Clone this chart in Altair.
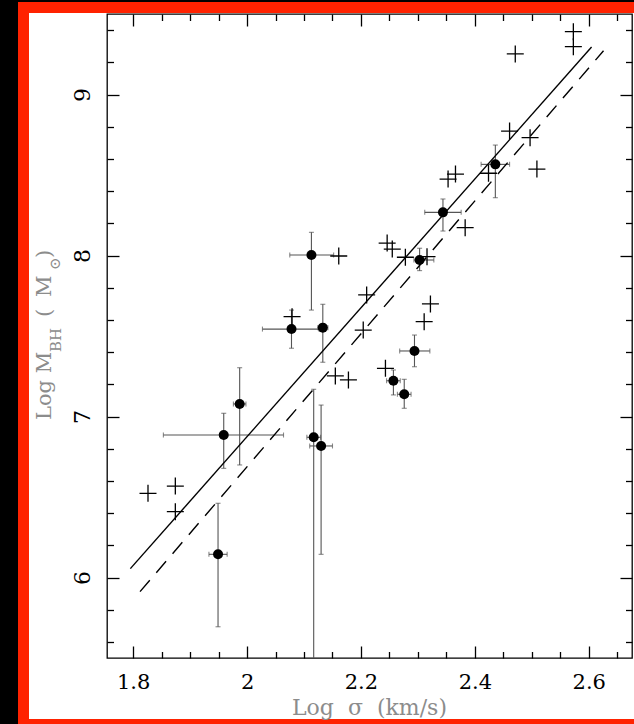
import altair as alt
import pandas as pd

# ---------------- data ----------------
# filled circles with error bars
circ_x = [2.113, 2.078, 2.133, 1.987, 1.959, 1.949, 2.117, 2.130, 2.344, 2.303, 2.294, 2.257, 2.276, 2.436]
circ_y = [8.003, 7.543, 7.552, 7.078, 6.885, 6.144, 6.871, 6.817, 8.268, 7.972, 7.407, 7.222, 7.138, 8.566]
circ_xlo = [2.075, 2.027, 2.124, 1.976, 1.853, 1.933, 2.105, 2.110, 2.312, 2.293, 2.268, 2.245, 2.264, 2.411]
circ_xhi = [2.152, 2.126, 2.142, 1.998, 2.064, 1.965, 2.129, 2.150, 2.376, 2.328, 2.321, 2.269, 2.288, 2.461]
circ_ylo = [7.661, 7.424, 7.337, 6.699, 6.678, 5.694, 5.000, 6.144, 8.152, 7.906, 7.309, 7.134, 7.051, 8.359]
circ_yhi = [8.144, 7.661, 7.697, 7.303, 7.020, 6.461, 7.169, 7.071, 8.351, 8.045, 7.506, 7.289, 7.231, 8.686]

# plus markers (no error bars)
plus_x = [1.826, 1.874, 1.874, 2.079, 2.155, 2.161, 2.178, 2.204, 2.210, 2.243, 2.246, 2.255, 2.278,
          2.316, 2.311, 2.322, 2.353, 2.366, 2.383, 2.424, 2.461, 2.471, 2.497, 2.509, 2.573, 2.573]
plus_y = [6.523, 6.568, 6.409, 7.620, 7.252, 7.997, 7.227, 7.537, 7.755, 7.299, 8.077, 8.040, 7.989,
          7.993, 7.589, 7.699, 8.475, 8.506, 8.173, 8.511, 8.773, 9.252, 8.732, 8.537, 9.390, 9.297]

# fitted relations (end points)
solid_x = [1.795, 2.605]
solid_y = [6.055, 9.295]
dash_x = [1.812, 2.626]
dash_y = [5.912, 9.272]

# axis ticks
x_major = [1.8, 2.0, 2.2, 2.4, 2.6]
x_minor = [1.85, 1.9, 1.95, 2.05, 2.1, 2.15, 2.25, 2.3, 2.35, 2.45, 2.5, 2.55, 2.65]
y_major = [6, 7, 8, 9]
y_minor = [5.6, 5.8, 6.2, 6.4, 6.6, 6.8, 7.2, 7.4, 7.6, 7.8, 8.2, 8.4, 8.6, 8.8, 9.2, 9.4]

X_DOMAIN = [1.754, 2.676]
Y_DOMAIN = [5.5, 9.5]

# ---------------- tables ----------------
circ = pd.DataFrame({"x": circ_x, "y": circ_y, "xlo": circ_xlo, "xhi": circ_xhi,
                     "ylo": circ_ylo, "yhi": circ_yhi})
plus = pd.DataFrame({"x": plus_x, "y": plus_y})
solid = pd.DataFrame({"x": solid_x, "y": solid_y})
dash = pd.DataFrame({"x": dash_x, "y": dash_y})
caps_h = pd.DataFrame({"x": circ_x + circ_x, "y": circ_ylo + circ_yhi})
caps_v = pd.DataFrame({"x": circ_xlo + circ_xhi, "y": circ_y + circ_y})

W, H = 525, 644
MAJ, MIN = 12, 6.5
LABEL_FONT = "DejaVu Serif"
TITLE_FONT = "DejaVu Serif"
GREY = "#8c8c8c"
ERR = "#555555"

xs = alt.Scale(domain=X_DOMAIN, nice=False, zero=False)
ys = alt.Scale(domain=Y_DOMAIN, nice=False, zero=False)


def tick_axis(orient, values, size, **kw):
    return alt.Axis(orient=orient, values=values, tickSize=size, offset=-size,
                    domain=False, grid=False, title=None, tickColor="black",
                    tickWidth=1.3, **kw)


ax_bottom = tick_axis("bottom", x_major, MAJ, labels=True, labelPadding=13, format="~g",
                      labelFont=LABEL_FONT, labelFontSize=21, labelColor="black")
ax_left = tick_axis("left", y_major, MAJ, labels=True, labelPadding=18, format="~g",
                    labelAngle=270, labelAlign="center", labelBaseline="alphabetic",
                    labelFont=LABEL_FONT, labelFontSize=22, labelColor="black")
ax_bottom_min = tick_axis("bottom", x_minor, MIN, labels=False)
ax_left_min = tick_axis("left", y_minor, MIN, labels=False)
ax_top = tick_axis("top", x_major, MAJ, labels=False)
ax_right = tick_axis("right", y_major, MAJ, labels=False)
ax_top_min = tick_axis("top", x_minor, MIN, labels=False)
ax_right_min = tick_axis("right", y_minor, MIN, labels=False)

# ---------------- layers ----------------
err_y = alt.Chart(circ).mark_rule(color=ERR, strokeWidth=1.1, clip=True).encode(
    x=alt.X("x:Q", scale=xs, axis=None),
    y=alt.Y("ylo:Q", scale=ys, axis=None), y2="yhi:Q")
err_x = alt.Chart(circ).mark_rule(color=ERR, strokeWidth=1.1, clip=True).encode(
    x=alt.X("xlo:Q", scale=xs, axis=None), x2="xhi:Q",
    y=alt.Y("y:Q", scale=ys, axis=None))
cap_h = alt.Chart(caps_h).mark_tick(color=ERR, orient="horizontal", size=5, thickness=1.1,
                                    clip=True).encode(
    x=alt.X("x:Q", scale=xs, axis=None), y=alt.Y("y:Q", scale=ys, axis=None))
cap_v = alt.Chart(caps_v).mark_tick(color=ERR, orient="vertical", size=5, thickness=1.1,
                                    clip=True).encode(
    x=alt.X("x:Q", scale=xs, axis=None), y=alt.Y("y:Q", scale=ys, axis=None))

solid_line = alt.Chart(solid).mark_line(color="black", strokeWidth=1.4).encode(
    x=alt.X("x:Q", scale=xs, axis=ax_bottom), y=alt.Y("y:Q", scale=ys, axis=ax_left))
dash_line = alt.Chart(dash).mark_line(color="black", strokeWidth=1.4,
                                      strokeDash=[15, 10]).encode(
    x=alt.X("x:Q", scale=xs, axis=ax_bottom_min), y=alt.Y("y:Q", scale=ys, axis=ax_left_min))

plus_pts = alt.Chart(plus).mark_point(shape="M-1,0L1,0M0,-1L0,1", size=289, filled=False,
                                      color="black", strokeWidth=1.3, opacity=1).encode(
    x=alt.X("x:Q", scale=xs, axis=ax_top), y=alt.Y("y:Q", scale=ys, axis=ax_right))
circ_pts = alt.Chart(circ).mark_point(shape="circle", size=100, filled=True, color="black",
                                      opacity=1).encode(
    x=alt.X("x:Q", scale=xs, axis=ax_top_min), y=alt.Y("y:Q", scale=ys, axis=ax_right_min))

one = alt.Data(values=[{"a": 1}])


def deco_rect(x1, x2, y1, y2, color):
    return alt.Chart(one).mark_rect(color=color).encode(
        x=alt.value(x1), x2=alt.value(x2), y=alt.value(y1), y2=alt.value(y2))


def label(txt, x, y, size=21, angle=270, align="left"):
    return alt.Chart(one).mark_text(text=txt, angle=angle, align=align, baseline="alphabetic",
                                    font=TITLE_FONT, fontSize=size, color=GREY).encode(
        x=alt.value(x), y=alt.value(y))


PL, PT = 107, 14
decor = [
    deco_rect(-PL, -PL + 18, -PT, 724 - PT, "black"),
    deco_rect(-PL, 634 - PL, -PT, -PT + 2, "black"),
    deco_rect(-PL + 18, -PL + 29, -PT + 2, 724 - PT, "#ff2200"),
    deco_rect(-PL + 18, 634 - PL, -PT + 2, -PT + 13, "#ff2200"),
    deco_rect(-PL + 18, 634 - PL, 719 - PT, 724 - PT, "#ff2200"),
]

titles = [
    label("Log\u00a0\u00a0σ\u00a0\u00a0(km/s)", W / 2, 714.5 - PT, size=22, angle=0, align="center"),
    label("Log M", 51 - PL, 420 - PT),
    label("BH", 61 - PL, 352 - PT, size=15),
    label("(", 51 - PL, 317 - PT),
    label("M", 51 - PL, 297 - PT),
    label("⊙", 60 - PL, 270 - PT, size=15),
    label(")", 51 - PL, 258 - PT),
]

chart = alt.layer(
    *decor, err_y, err_x, cap_h, cap_v, solid_line, dash_line, plus_pts, circ_pts, *titles
).resolve_axis(x="independent", y="independent").properties(
    width=W, height=H,
    autosize=alt.AutoSizeParams(type="none"),
    padding={"left": PL, "top": PT, "right": 634 - PL - W, "bottom": 724 - PT - H},
).configure(background="white").configure_view(stroke="black", strokeWidth=1.3, fill="white")

chart.save("out.html", embed_options={"renderer": "svg", "actions": False})
